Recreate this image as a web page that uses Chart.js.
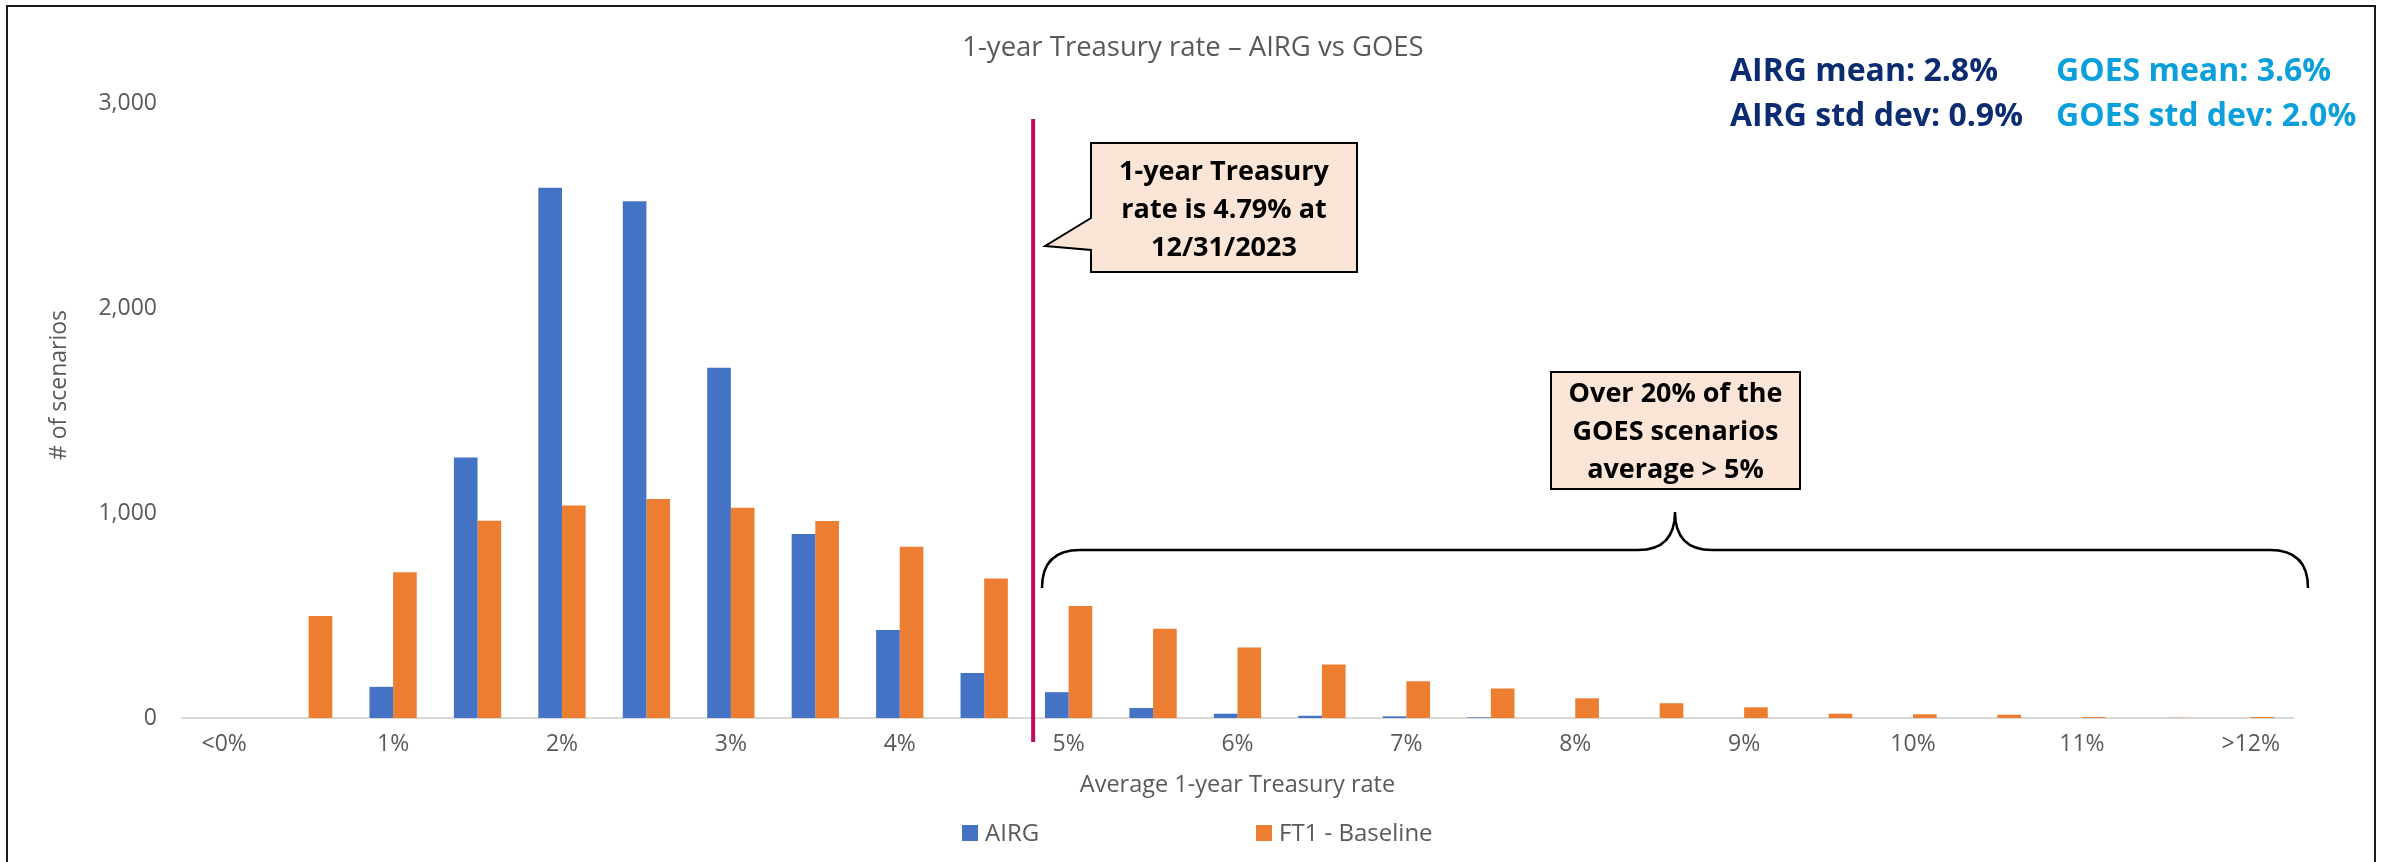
<!DOCTYPE html>
<html>
<head>
<meta charset="utf-8">
<script src="https://cdn.jsdelivr.net/npm/chart.js@4.4.1/dist/chart.umd.min.js"></script>
<style>
  html, body { margin: 0; padding: 0; background: #fff; }
  canvas { display: block; }
</style>
</head>
<body>
<canvas id="myChart" width="2386" height="862" style="width:2386px;height:862px"></canvas>
<script>
// bins of the average 1-year Treasury rate
const categories = ['<0%', '0.5%', '1%', '1.5%', '2%', '2.5%', '3%', '3.5%', '4%', '4.5%', '5%', '5.5%', '6%',
  '6.5%', '7%', '7.5%', '8%', '8.5%', '9%', '9.5%', '10%', '10.5%', '11%', '11.5%', '>12%']
const airgCounts = [0, 0, 152, 1271, 2587, 2521, 1709, 897, 429, 220, 126, 49, 21, 11, 8, 3, 0, 0, 0, 0, 0, 0, 0, 0, 0]
const goesCounts = [0, 497, 711, 962, 1037, 1068, 1026, 961, 835, 680, 546, 435, 344, 261, 179, 144, 96, 72, 52, 21, 18, 16, 5, 1, 5]
const yTicks = [0, 1000, 2000, 3000]
const currentRate = 4.79

const grey = '#595959'
const font = '"Open Sans", "Noto Sans", sans-serif'

const annotations = {
  id: 'annotations',
  afterDraw(chart) {
    const {ctx, scales: {x}} = chart
    ctx.save()

    // outer frame
    ctx.strokeStyle = '#1a1a1a'
    ctx.lineWidth = 2
    ctx.strokeRect(7, 6, 2368, 900)

    // title
    ctx.fillStyle = grey
    ctx.font = `27.5px ${font}`
    ctx.textAlign = 'center'
    ctx.textBaseline = 'middle'
    ctx.fillText('1-year Treasury rate \u2013 AIRG vs GOES', chart.width / 2, 48)

    // y axis title
    ctx.save()
    ctx.translate(59, 385)
    ctx.rotate(-Math.PI / 2)
    ctx.font = `23px ${font}`
    ctx.fillText('# of scenarios', 0, 0)
    ctx.restore()

    // stats
    ctx.font = `bold 32px ${font}`
    ctx.textAlign = 'left'
    ctx.textBaseline = 'alphabetic'
    ctx.fillStyle = '#0B2C70'
    ctx.fillText('AIRG mean: 2.8%', 1730, 81)
    ctx.fillText('AIRG std dev: 0.9%', 1730, 126)
    ctx.fillStyle = '#0BA0DC'
    ctx.fillText('GOES mean: 3.6%', 2056, 81)
    ctx.fillText('GOES std dev: 2.0%', 2056, 126)

    // current rate line
    const lx = x.getPixelForValue(currentRate * 2)
    ctx.strokeStyle = '#BE0A60'
    ctx.lineWidth = 4
    ctx.beginPath()
    ctx.moveTo(lx, 119)
    ctx.lineTo(lx, 742)
    ctx.stroke()

    // callout 1 with tail
    callout(ctx, 1091, 143, 266, 129, ['1-year Treasury', 'rate is 4.79% at', '12/31/2023'], 180,
      {tipX: lx + 12, tipY: 246, y1: 218, y2: 250})
    // callout 2
    callout(ctx, 1551, 372, 249, 117, ['Over 20% of the', 'GOES scenarios', 'average > 5%'], 402, null)

    // brace
    ctx.strokeStyle = '#000'
    ctx.lineWidth = 2.5
    ctx.beginPath()
    ctx.moveTo(1042, 588)
    ctx.quadraticCurveTo(1042, 550, 1080, 550)
    ctx.lineTo(1638, 550)
    ctx.quadraticCurveTo(1675, 550, 1675, 512)
    ctx.quadraticCurveTo(1675, 550, 1712, 550)
    ctx.lineTo(2270, 550)
    ctx.quadraticCurveTo(2308, 550, 2308, 588)
    ctx.stroke()

    // legend
    ctx.font = `24px ${font}`
    ctx.textBaseline = 'middle'
    chart.data.datasets.forEach((ds, i) => {
      const lxs = 962 + i * 294
      ctx.fillStyle = ds.backgroundColor
      ctx.fillRect(lxs, 825, 16, 16)
      ctx.fillStyle = grey
      ctx.fillText(ds.label, lxs + 23, 834)
    })

    ctx.restore()
  }
}

function callout(ctx, bx, by, bw, bh, lines, firstBase, tail) {
  ctx.beginPath()
  ctx.moveTo(bx, by)
  ctx.lineTo(bx + bw, by)
  ctx.lineTo(bx + bw, by + bh)
  ctx.lineTo(bx, by + bh)
  if (tail) {
    ctx.lineTo(bx, tail.y2)
    ctx.lineTo(tail.tipX, tail.tipY)
    ctx.lineTo(bx, tail.y1)
  }
  ctx.closePath()
  ctx.fillStyle = '#FBE5D6'
  ctx.fill()
  ctx.strokeStyle = '#000'
  ctx.lineWidth = 2
  ctx.stroke()
  ctx.fillStyle = '#000'
  ctx.font = `bold 27px ${font}`
  ctx.textAlign = 'center'
  ctx.textBaseline = 'alphabetic'
  lines.forEach((t, i) => ctx.fillText(t, bx + bw / 2, firstBase + i * 38))
  ctx.textAlign = 'left'
}

const ctx = document.getElementById('myChart')
new Chart(ctx, {
  type: 'bar',
  data: {
    labels: categories,
    datasets: [
      {label: 'AIRG', data: airgCounts, backgroundColor: '#4472C4'},
      {label: 'FT1 - Baseline', data: goesCounts, backgroundColor: '#ED7D31'}
    ]
  },
  options: {
    responsive: false,
    animation: false,
    devicePixelRatio: 1,
    categoryPercentage: 0.56,
    barPercentage: 1,
    layout: {padding: {top: 103, left: 0, right: 93, bottom: 62}},
    plugins: {legend: {display: false}, tooltip: {enabled: false}},
    scales: {
      x: {
        grid: {display: false, drawTicks: false},
        border: {display: true, color: '#D9D9D9', width: 2},
        ticks: {
          color: grey, font: {size: 23, family: font}, padding: 13,
          autoSkip: false, maxRotation: 0, minRotation: 0,
          callback: (v, i) => i % 2 === 0 ? categories[i] : ''
        },
        title: {display: true, text: 'Average 1-year Treasury rate', color: grey,
          font: {size: 23.5, family: font}, padding: {top: 0, bottom: 1}},
        afterFit: (scale) => { scale.height = 82 }
      },
      y: {
        min: 0, max: 3000,
        grid: {display: false, drawTicks: false},
        border: {display: false},
        afterBuildTicks: (scale) => { scale.ticks = yTicks.map(v => ({value: v})) },
        ticks: {
          color: grey, font: {size: 23, family: font}, padding: 25,
          callback: (v) => v.toLocaleString('en-US')
        },
        afterFit: (scale) => { scale.width = 182 }
      }
    }
  },
  plugins: [annotations]
})
</script>
</body>
</html>
